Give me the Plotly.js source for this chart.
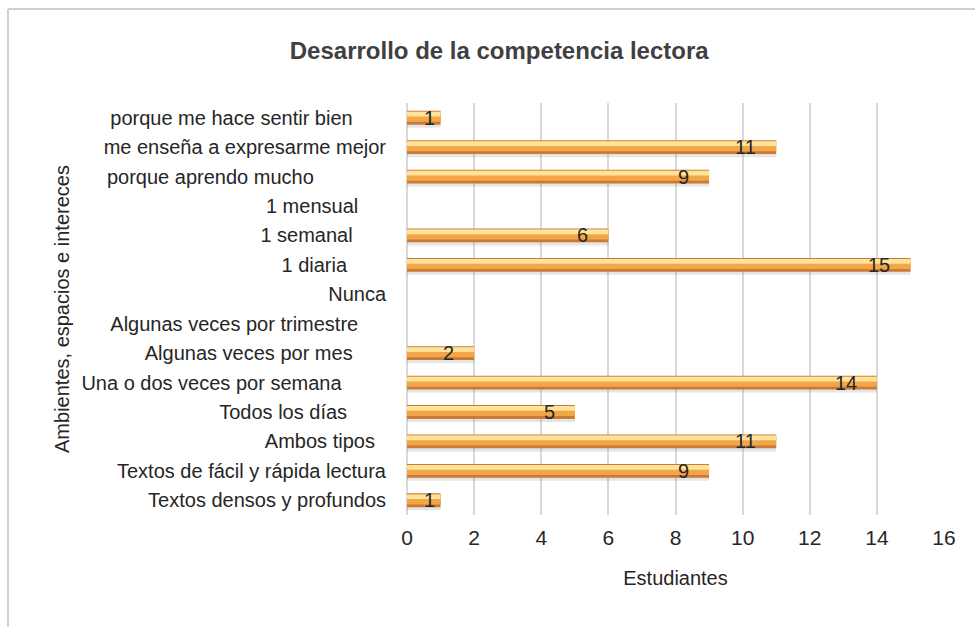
<!DOCTYPE html>
<html>
<head>
<meta charset="utf-8">
<script src="https://cdn.plot.ly/plotly-3.0.1.min.js"></script>
<style>html,body{margin:0;padding:0;background:#fff;}#chart{width:975px;height:627px;}</style>
</head>
<body>
<div id="chart"></div>
<script>
// Categories, top to bottom
const categories = [
  "porque me hace sentir bien",
  "me enseña a expresarme mejor",
  "porque aprendo mucho",
  "1 mensual",
  "1 semanal",
  "1 diaria",
  "Nunca",
  "Algunas veces por trimestre",
  "Algunas veces por mes",
  "Una o dos veces por semana",
  "Todos los días",
  "Ambos tipos",
  "Textos de fácil y rápida lectura",
  "Textos densos y profundos"
];
// Tick labels with the trailing spaces of the original
const tickLabels = [
  "porque me hace sentir bien      ",
  "me enseña a expresarme mejor",
  "porque aprendo mucho             ",
  "1 mensual     ",
  "1 semanal      ",
  "1 diaria       ",
  "Nunca",
  "Algunas veces por trimestre     ",
  "Algunas veces por mes      ",
  "Una o dos veces por semana        ",
  "Todos los días       ",
  "Ambos tipos  ",
  "Textos de fácil y rápida lectura",
  "Textos densos y profundos"
];
const estudiantes = [1, 11, 9, 0, 6, 15, 0, 0, 2, 14, 5, 11, 9, 1];
const xTicks = [0, 2, 4, 6, 8, 10, 12, 14, 16];
const yTitle = "Ambientes, espacios e intereces";
const xTitle = "Estudiantes";
const chartTitle = "Desarrollo de la competencia lectora";

const nb = s => s.replace(/ +$/, m => "\u00a0".repeat(m.length));

const font = "Liberation Sans, Arial, sans-serif";
const base = {type: "bar", orientation: "h", x: estudiantes, y: categories, hoverinfo: "skip", showlegend: false};

const traces = [
  Object.assign({}, base, {width: 0.50, offset: -0.16, marker: {color: "rgba(110,110,110,0.18)", line: {width: 0}}}),
  Object.assign({}, base, {width: 0.47, offset: -0.235, marker: {color: "#C97A35", line: {width: 0}}}),
  Object.assign({}, base, {width: 0.34, offset: -0.20, marker: {color: "#F3A648", line: {width: 0}}}),
  Object.assign({}, base, {width: 0.16, offset: -0.20, marker: {color: "#FFE39A", line: {width: 0}}})
];

const annotations = estudiantes.map((v, i) => v ? {
  x: v, y: categories[i], xref: "x", yref: "y", text: String(v), showarrow: false,
  xanchor: "right", yanchor: "middle", xshift: v < 2 ? -4 : -18, yshift: 0,
  font: {family: font, size: 20, color: "#262626"}
} : null).filter(a => a);

annotations.push({
  x: -0.6425, y: 0.5, xref: "paper", yref: "paper", text: yTitle, showarrow: false, textangle: -90,
  xanchor: "center", yanchor: "middle", font: {family: font, size: 20, color: "#262626"}
});

const layout = {
  width: 975, height: 627,
  paper_bgcolor: "#fff", plot_bgcolor: "#fff",
  margin: {l: 407, r: 31, t: 103, b: 112},
  barmode: "overlay",
  font: {family: font, color: "#262626"},
  title: {text: "<b>" + chartTitle + "</b>", x: 0.512, xanchor: "center", y: 0.92, yanchor: "middle",
          font: {family: font, size: 24, color: "#404040"}},
  xaxis: {range: [0, 16], tickvals: xTicks, ticktext: xTicks.map(String), showgrid: true, gridcolor: "#D9D9D9", gridwidth: 2,
          zeroline: true, zerolinecolor: "#D9D9D9", zerolinewidth: 2, showline: false, ticks: "",
          tickfont: {family: font, size: 21, color: "#262626"}, ticklabelstandoff: 8,
          title: {text: xTitle, font: {family: font, size: 20, color: "#262626"}, standoff: 22}},
  yaxis: {type: "category", categoryorder: "array", categoryarray: categories, autorange: "reversed",
          tickvals: categories, ticktext: tickLabels.map(nb), showgrid: false, zeroline: false, showline: false, ticks: "",
          tickfont: {family: font, size: 20, color: "#262626"}, ticklabelstandoff: 20},
  annotations: annotations,
  shapes: [
    {type: "line", xref: "paper", yref: "paper", x0: -0.743, x1: 1.2, y0: 1.228, y1: 1.228, line: {color: "#D0D0D0", width: 2}},
    {type: "line", xref: "paper", yref: "paper", x0: -0.743, x1: -0.743, y0: 1.228, y1: -0.4, line: {color: "#D0D0D0", width: 2}}
  ]
};

Plotly.newPlot("chart", traces, layout, {displayModeBar: false, staticPlot: true});
</script>
</body>
</html>
